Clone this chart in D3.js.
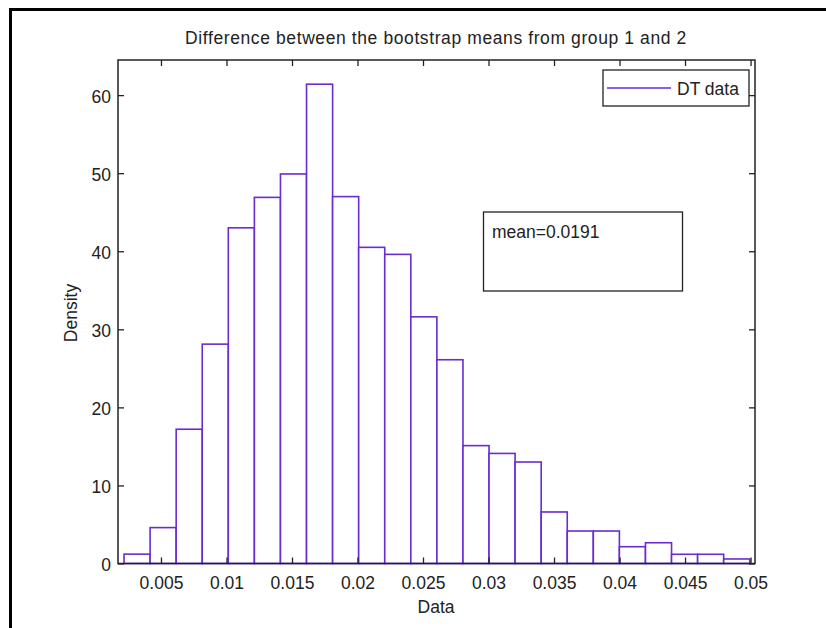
<!DOCTYPE html>
<html>
<head>
<meta charset="utf-8">
<script src="https://cdn.jsdelivr.net/npm/d3@7"></script>
<style>
  html, body { margin: 0; padding: 0; background: #fff; }
  svg { display: block; }
  text { font-family: "Liberation Sans", Arial, Helvetica, sans-serif; fill: #222; }
</style>
</head>
<body>
<svg id="chart" width="826" height="628"></svg>
<script>
// Histogram of bootstrap mean differences (density-normalised)
const binEdges = [0.00218, 0.00417, 0.00616, 0.00815, 0.01014, 0.01213, 0.01412,
  0.01611, 0.01810, 0.02009, 0.02208, 0.02407, 0.02606, 0.02805, 0.03004,
  0.03203, 0.03402, 0.03601, 0.03800, 0.03999, 0.04198, 0.04397, 0.04596,
  0.04795, 0.04994];
const densities = [1.2, 4.6, 17.2, 28.1, 43.0, 46.9, 49.9, 61.4, 47.0, 40.5,
  39.6, 31.6, 26.1, 15.1, 14.1, 13.0, 6.6, 4.16, 4.16, 2.15, 2.66, 1.18, 1.18, 0.58];
const xTicks = [0.005, 0.01, 0.015, 0.02, 0.025, 0.03, 0.035, 0.04, 0.045, 0.05];
const xTickLabels = ["0.005", "0.01", "0.015", "0.02", "0.025", "0.03", "0.035", "0.04", "0.045", "0.05"];
const yTicks = [0, 10, 20, 30, 40, 50, 60];
const xDomain = [0.00172, 0.05034];
const yDomain = [0, 64.5];
const meanValue = 0.0191;
const seriesName = "DT data";
const titleText = "Difference between the bootstrap means from group 1 and 2";

const barColor = "#6a2bd0";
const axisColor = "#222";
const fontSize = 17.5;

const svg = d3.select("#chart");
const plot = { left: 118, right: 755, top: 60, bottom: 563.5 };

// outer figure frame (left and top edges)
svg.append("path")
  .attr("d", `M10.5,628 L10.5,9.5 L826,9.5`)
  .attr("fill", "none").attr("stroke", "#000").attr("stroke-width", 3);

const x = d3.scaleLinear().domain(xDomain).range([plot.left, plot.right]);
const y = d3.scaleLinear().domain(yDomain).range([plot.bottom, plot.top]);

// bars
const bins = densities.map((v, i) => ({ x0: binEdges[i], x1: binEdges[i + 1], v }));
svg.append("g").selectAll("rect").data(bins).join("rect")
  .attr("x", d => x(d.x0))
  .attr("width", d => x(d.x1) - x(d.x0))
  .attr("y", d => y(d.v))
  .attr("height", d => y(0) - y(d.v))
  .attr("fill", "#fff")
  .attr("stroke", barColor)
  .attr("stroke-width", 1.6);

// axes with inward ticks, mirrored on top and right
const labelFmt = d => xTickLabels[xTicks.indexOf(d)];
function styleAxis(g) {
  g.select(".domain").remove();
  g.selectAll(".tick line").attr("stroke", axisColor).attr("stroke-width", 1.3);
  g.selectAll("text").attr("font-size", fontSize).attr("fill", axisColor)
    .attr("font-family", "Liberation Sans, Arial, sans-serif");
}
svg.append("g").attr("transform", `translate(0,${plot.bottom})`)
  .call(d3.axisBottom(x).tickValues(xTicks).tickFormat(labelFmt).tickSizeInner(-6).tickSizeOuter(0).tickPadding(13.5))
  .call(styleAxis);
svg.append("g").attr("transform", `translate(0,${plot.top})`)
  .call(d3.axisTop(x).tickValues(xTicks).tickFormat("").tickSizeInner(-6).tickSizeOuter(0))
  .call(styleAxis);
svg.append("g").attr("transform", `translate(${plot.left},0)`)
  .call(d3.axisLeft(y).tickValues(yTicks).tickSizeInner(-6).tickSizeOuter(0).tickPadding(7))
  .call(styleAxis)
  .call(g => g.selectAll("text").attr("dy", "0.42em"));
svg.append("g").attr("transform", `translate(${plot.right},0)`)
  .call(d3.axisRight(y).tickValues(yTicks).tickFormat("").tickSizeInner(-6).tickSizeOuter(0))
  .call(styleAxis);

// plot box
svg.append("rect")
  .attr("x", plot.left).attr("y", plot.top)
  .attr("width", plot.right - plot.left).attr("height", plot.bottom - plot.top)
  .attr("fill", "none").attr("stroke", axisColor).attr("stroke-width", 1.5);

// title and axis labels
svg.append("text").attr("x", 436).attr("y", 44).attr("text-anchor", "middle")
  .attr("font-size", fontSize).attr("letter-spacing", 0.6).text(titleText);
svg.append("text").attr("x", 436).attr("y", 613).attr("text-anchor", "middle")
  .attr("font-size", fontSize).text("Data");
svg.append("text").attr("transform", "translate(77,313) rotate(-90)")
  .attr("text-anchor", "middle").attr("font-size", fontSize).text("Density");

// legend
const lg = svg.append("g");
lg.append("rect").attr("x", 603).attr("y", 70).attr("width", 146).attr("height", 36)
  .attr("fill", "#fff").attr("stroke", axisColor).attr("stroke-width", 1.3);
lg.append("line").attr("x1", 607).attr("x2", 671).attr("y1", 88).attr("y2", 88)
  .attr("stroke", barColor).attr("stroke-width", 1.6);
lg.append("text").attr("x", 677).attr("y", 94.5).attr("font-size", fontSize).text(seriesName);

// mean annotation box
const ab = svg.append("g");
ab.append("rect").attr("x", 483.5).attr("y", 212).attr("width", 199).attr("height", 79)
  .attr("fill", "#fff").attr("stroke", axisColor).attr("stroke-width", 1.3);
ab.append("text").attr("x", 492).attr("y", 238).attr("font-size", fontSize)
  .text("mean=" + meanValue);
</script>
</body>
</html>
